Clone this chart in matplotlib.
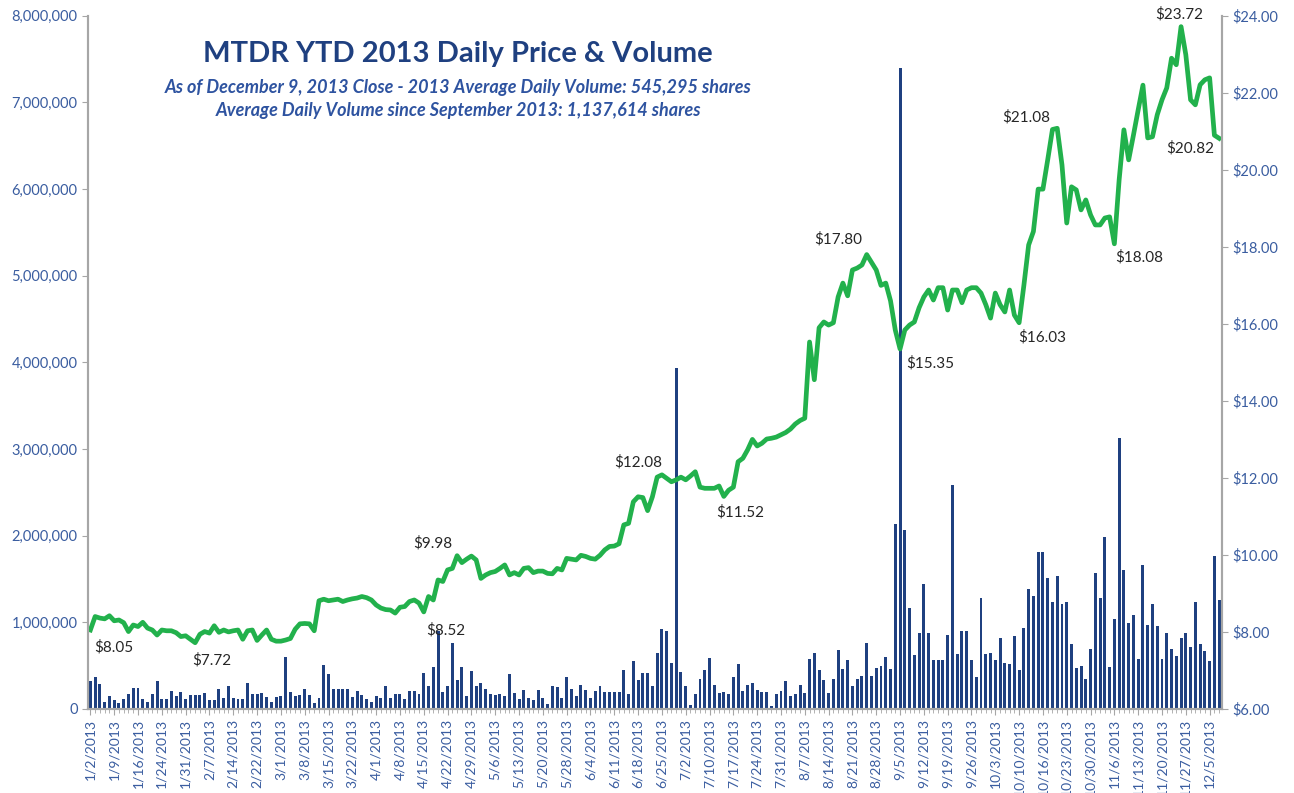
import numpy as np
import matplotlib.pyplot as plt
from matplotlib.ticker import FuncFormatter, MultipleLocator

plt.rcParams['font.family'] = ['Lato', 'DejaVu Sans']

# daily volume, millions of shares (1/2/2013 .. 12/9/2013)
volume_m = [
    0.32, 0.37, 0.29, 0.08, 0.15, 0.10, 0.07, 0.12, 0.17, 0.24,
    0.24, 0.12, 0.08, 0.17, 0.32, 0.11, 0.11, 0.21, 0.15, 0.20,
    0.11, 0.16, 0.16, 0.16, 0.18, 0.10, 0.10, 0.23, 0.13, 0.26,
    0.13, 0.11, 0.11, 0.30, 0.17, 0.17, 0.18, 0.14, 0.08, 0.14,
    0.15, 0.60, 0.20, 0.15, 0.16, 0.23, 0.16, 0.07, 0.13, 0.51,
    0.40, 0.23, 0.23, 0.23, 0.23, 0.14, 0.21, 0.16, 0.12, 0.08,
    0.15, 0.13, 0.27, 0.13, 0.17, 0.17, 0.12, 0.21, 0.21, 0.17,
    0.42, 0.26, 0.48, 0.90, 0.20, 0.27, 0.76, 0.33, 0.48, 0.15,
    0.44, 0.26, 0.30, 0.23, 0.17, 0.16, 0.17, 0.15, 0.40, 0.18,
    0.12, 0.22, 0.13, 0.10, 0.22, 0.13, 0.06, 0.27, 0.25, 0.13,
    0.37, 0.23, 0.15, 0.28, 0.22, 0.13, 0.21, 0.26, 0.20, 0.20,
    0.20, 0.20, 0.45, 0.17, 0.55, 0.33, 0.41, 0.41, 0.27, 0.65,
    0.92, 0.90, 0.53, 3.93, 0.43, 0.26, 0.05, 0.17, 0.35, 0.45,
    0.59, 0.28, 0.18, 0.20, 0.17, 0.37, 0.52, 0.21, 0.28, 0.30,
    0.22, 0.19, 0.19, 0.03, 0.17, 0.21, 0.32, 0.15, 0.17, 0.28,
    0.18, 0.58, 0.65, 0.45, 0.33, 0.18, 0.35, 0.68, 0.46, 0.56,
    0.26, 0.35, 0.38, 0.76, 0.38, 0.47, 0.49, 0.60, 0.46, 2.14,
    7.40, 2.07, 1.17, 0.62, 0.88, 1.44, 0.88, 0.57, 0.57, 0.57,
    0.85, 2.58, 0.63, 0.90, 0.90, 0.57, 0.37, 1.28, 0.63, 0.65,
    0.57, 0.82, 0.53, 0.52, 0.84, 0.45, 0.93, 1.38, 1.30, 1.81,
    1.81, 1.51, 1.23, 1.54, 1.21, 1.23, 0.75, 0.47, 0.49, 0.34,
    0.69, 1.57, 1.28, 1.98, 0.48, 1.04, 3.13, 1.60, 0.99, 1.09,
    0.58, 1.66, 0.97, 1.21, 0.96, 0.58, 0.88, 0.69, 0.61, 0.82,
    0.88, 0.72, 1.23, 0.75, 0.67, 0.55, 1.77, 1.26,
]

# daily close, $
price = [
    8.05, 8.40, 8.36, 8.34, 8.42, 8.29, 8.31, 8.24, 8.01, 8.18,
    8.14, 8.25, 8.10, 8.05, 7.92, 8.05, 8.03, 8.03, 7.98, 7.88,
    7.90, 7.81, 7.72, 7.94, 8.01, 7.97, 8.16, 7.99, 8.05, 8.00,
    8.03, 8.05, 7.81, 8.03, 8.05, 7.78, 7.92, 8.05, 7.81, 7.76,
    7.76, 7.79, 7.83, 8.07, 8.21, 8.22, 8.21, 8.03, 8.81, 8.85,
    8.81, 8.83, 8.85, 8.79, 8.83, 8.86, 8.88, 8.92, 8.89, 8.83,
    8.70, 8.62, 8.58, 8.57, 8.49, 8.64, 8.66, 8.79, 8.83, 8.75,
    8.52, 8.92, 8.83, 9.35, 9.31, 9.61, 9.65, 9.98, 9.80, 9.89,
    9.97, 9.87, 9.39, 9.48, 9.54, 9.57, 9.65, 9.74, 9.48, 9.54,
    9.48, 9.65, 9.67, 9.54, 9.58, 9.58, 9.52, 9.51, 9.65, 9.61,
    9.91, 9.89, 9.87, 9.99, 9.96, 9.91, 9.89, 9.99, 10.13, 10.22,
    10.23, 10.29, 10.78, 10.82, 11.38, 11.51, 11.49, 11.15, 11.51, 12.02,
    12.08, 11.99, 11.90, 11.95, 12.02, 11.95, 12.05, 12.16,
    11.76, 11.73, 11.73, 11.73, 11.79, 11.52, 11.68, 11.76,
    12.42, 12.51, 12.73, 13.00, 12.83, 12.90, 13.01, 13.03, 13.06, 13.12,
    13.18, 13.27, 13.40, 13.49, 13.55,
    15.53, 14.55, 15.90, 16.05, 15.97, 16.03, 16.70, 17.06, 16.73, 17.40,
    17.45, 17.53, 17.80, 17.60, 17.40, 17.00, 17.06, 16.60, 15.84, 15.35,
    15.84, 15.97, 16.05, 16.42, 16.70, 16.88, 16.62, 16.94, 16.94, 16.36,
    16.88, 16.88, 16.55, 16.88, 16.94, 16.94, 16.80, 16.50, 16.15, 16.80,
    16.50, 16.31, 16.88, 16.23, 16.03, 17.00, 18.05, 18.40, 19.50, 19.50,
    20.26, 21.05, 21.08, 20.13, 18.62, 19.56, 19.48, 18.96, 19.22, 18.83,
    18.57, 18.57, 18.75, 18.78, 18.08, 19.74, 21.04, 20.26, 20.90, 21.56,
    22.20, 20.83, 20.86, 21.43, 21.82, 22.13, 22.90, 22.73, 23.72, 22.99,
    21.82, 21.69, 22.21, 22.34, 22.39, 20.90, 20.82,
]

tick_labels = [
    '1/2/2013', '1/9/2013', '1/16/2013', '1/24/2013', '1/31/2013', '2/7/2013',
    '2/14/2013', '2/22/2013', '3/1/2013', '3/8/2013', '3/15/2013', '3/22/2013',
    '4/1/2013', '4/8/2013', '4/15/2013', '4/22/2013', '4/29/2013', '5/6/2013',
    '5/13/2013', '5/20/2013', '5/28/2013', '6/4/2013', '6/11/2013', '6/18/2013',
    '6/25/2013', '7/2/2013', '7/10/2013', '7/17/2013', '7/24/2013', '7/31/2013',
    '8/7/2013', '8/14/2013', '8/21/2013', '8/28/2013', '9/5/2013', '9/12/2013',
    '9/19/2013', '9/26/2013', '10/3/2013', '10/10/2013', '10/16/2013', '10/23/2013',
    '10/30/2013', '11/6/2013', '11/13/2013', '11/20/2013', '11/27/2013', '12/5/2013',
]

# days whose close is written on the chart
label_days = [0, 22, 70, 77, 120, 133, 163, 170, 195, 203, 215, 229, 237]
# where each price label sits relative to its point (pixels)
label_offsets = [(23, -17), (17, -18), (22, -18), (-24, 12), (-24, 13), (16, -16),
                 (-28, 15), (30, -14), (23, -15), (-31, 11), (25, -13), (-2, 12), (-29, -10)]

navy = '#1F4080'
blue = '#3A5DA0'
green = '#22B14C'
grey = '#A6A6A6'

fig = plt.figure(figsize=(12.94, 7.93), dpi=100)
ax = fig.add_axes([0.068, 0.106, 0.876, 0.874])

x = np.arange(len(volume_m))
ax.bar(x, np.array(volume_m) * 1e6, width=0.62, color=navy)
ax.set_xlim(-0.5, len(volume_m) - 0.5)
ax.set_ylim(0, 8e6)
ax.yaxis.set_major_locator(MultipleLocator(1e6))
ax.yaxis.set_major_formatter(FuncFormatter(lambda v, p: f'{int(v):,}'))

ax.set_xticks(np.arange(0, len(volume_m), 5))
ax.set_xticklabels(tick_labels, rotation=90)
ax.set_xticks(x, minor=True)

ax2 = ax.twinx()
ax2.plot(np.arange(len(price)), price, color=green, lw=3.4, solid_joinstyle='round')
ax2.set_ylim(6, 24)
ax2.yaxis.set_major_locator(MultipleLocator(2))
ax2.yaxis.set_major_formatter(FuncFormatter(lambda v, p: f'${v:.2f}'))

for a in (ax, ax2):
    a.spines['top'].set_visible(False)
    for s in ('left', 'right', 'bottom'):
        a.spines[s].set_color(grey)
        a.spines[s].set_linewidth(1.5)
    a.tick_params(axis='y', colors=grey, labelcolor=blue, labelsize=10.5, length=4)
ax.tick_params(axis='x', which='major', colors=grey, labelcolor=blue, labelsize=10, length=4)
ax.tick_params(axis='x', which='minor', colors=grey, length=3)

for i, (dx, dy) in zip(label_days, label_offsets):
    ax2.annotate(f'${price[i]:.2f}', xy=(i, price[i]), xytext=(dx, dy),
                 textcoords='offset pixels', ha='center', va='center',
                 fontsize=11, color='#262626')

fig.text(0.354, 0.932, 'MTDR YTD 2013 Daily Price & Volume', ha='center', va='center',
         fontsize=21, fontweight='bold', color=navy)
fig.text(0.354, 0.890, 'As of December 9, 2013 Close - 2013 Average Daily Volume: 545,295 shares',
         ha='center', va='center', fontsize=13, fontweight='bold', fontstyle='italic', color='#2E53A0')
fig.text(0.354, 0.861, 'Average Daily Volume since September 2013: 1,137,614 shares',
         ha='center', va='center', fontsize=13, fontweight='bold', fontstyle='italic', color='#2E53A0')

fig.savefig('out.png', dpi=100)
